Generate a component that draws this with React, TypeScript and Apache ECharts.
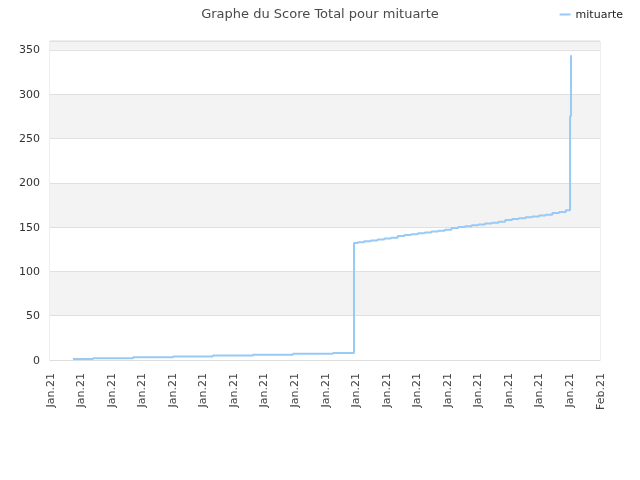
import React, { useEffect, useRef } from "react";
import * as echarts from "echarts";

const titleText = "Graphe du Score Total pour mituarte";
const seriesName = "mituarte";
const xTickLabels = [
  "Jan.21", "Jan.21", "Jan.21", "Jan.21", "Jan.21", "Jan.21", "Jan.21",
  "Jan.21", "Jan.21", "Jan.21", "Jan.21", "Jan.21", "Jan.21", "Jan.21",
  "Jan.21", "Jan.21", "Jan.21", "Jan.21", "Feb.21",
];
const xValues = [
  0.75, 1.41, 2.72, 4.03, 5.33, 6.64, 7.95, 9.26, 9.95, 9.95, 9.95,
  10.08, 10.28, 10.5, 10.72, 10.94, 11.16, 11.38, 11.6, 11.82, 12.04,
  12.26, 12.48, 12.7, 12.92, 13.14, 13.36, 13.58, 13.8, 14.02, 14.24,
  14.46, 14.68, 14.9, 15.12, 15.34, 15.56, 15.78, 16.0, 16.22, 16.44,
  16.66, 16.88, 17.02, 17.02, 17.05, 17.05,
];
const yValues = [
  1, 2, 3, 4, 5, 6, 7, 8, 15, 22, 132,
  133, 134, 135, 136, 137, 138, 140, 141, 142, 143,
  144, 145, 146, 147, 149, 150, 151, 152, 153, 154,
  155, 156, 158, 159, 160, 161, 162, 163, 164, 166,
  167, 169, 208, 275, 275, 344,
];

export default function App() {
  const ref = useRef<HTMLDivElement>(null);
  useEffect(() => {
    if (!ref.current) return;
    const chart = echarts.init(ref.current, null, { renderer: "svg" });
    const font = "DejaVu Sans";
    chart.setOption({
      animation: false,
      title: {
        text: titleText,
        left: "center",
        top: 2,
        textStyle: { fontFamily: font, fontSize: 13, fontWeight: "normal", color: "#4a4a4a" },
      },
      legend: {
        data: [seriesName],
        right: 12,
        top: 4,
        icon: "rect",
        itemWidth: 11,
        itemHeight: 2,
        itemGap: 8,
        textStyle: { fontFamily: font, fontSize: 11, color: "#222" },
      },
      grid: {
        left: 50,
        right: 40,
        top: 41,
        bottom: 120,
        show: true,
        borderColor: "#ddd",
        borderWidth: 1,
      },
      xAxis: {
        type: "value",
        min: 0,
        max: 18,
        interval: 1,
        axisLine: { show: true, lineStyle: { color: "#ddd" } },
        axisTick: { show: false },
        splitLine: { show: false },
        axisLabel: {
          rotate: 90,
          fontFamily: font,
          fontSize: 11,
          color: "#444",
          margin: 13,
          formatter: (v: number) => xTickLabels[Math.round(v)] ?? "",
        },
      },
      yAxis: {
        type: "value",
        min: 0,
        max: 360,
        interval: 50,
        axisLine: { show: false },
        axisTick: { show: false },
        splitLine: { show: true, lineStyle: { color: "#e0e0e0" } },
        splitArea: { show: true, areaStyle: { color: ["#ffffff", "#f3f3f3"] } },
        axisLabel: {
          fontFamily: font,
          fontSize: 11,
          color: "#333",
          margin: 10,
          formatter: (v: number) => (v % 50 === 0 ? String(v) : ""),
        },
      },
      series: [
        {
          name: seriesName,
          type: "line",
          step: "end",
          symbol: "none",
          lineStyle: { color: "#99c9f5", width: 2 },
          itemStyle: { color: "#99c9f5" },
          data: xValues.map((x, i) => [x, yValues[i]]),
        },
      ],
    });
    return () => chart.dispose();
  }, []);
  return (
    <div
      ref={ref}
      style={{ position: "fixed", left: 0, top: 0, width: 640, height: 480 }}
    />
  );
}
